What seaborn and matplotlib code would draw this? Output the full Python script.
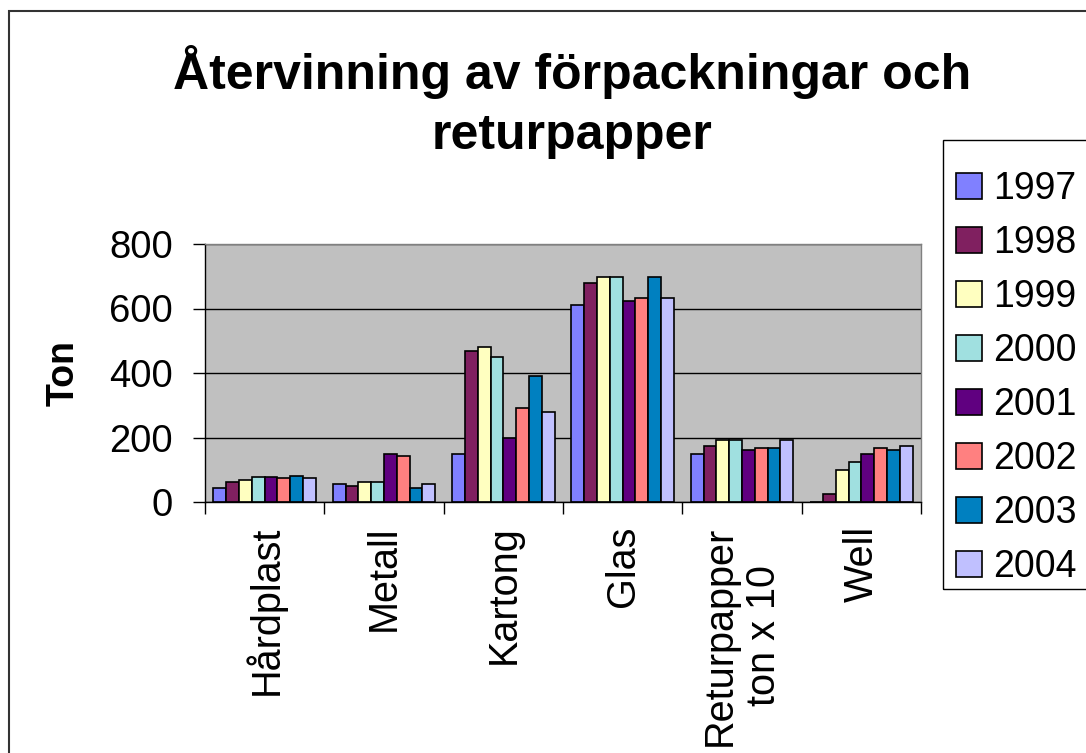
import matplotlib
matplotlib.use("Agg")
import matplotlib.pyplot as plt
import seaborn as sns
import pandas as pd
import numpy as np
from matplotlib.patches import Rectangle, Patch
from matplotlib.ticker import FixedLocator

categories = ["Hårdplast", "Metall", "Kartong", "Glas", "Returpapper\nton x 10", "Well"]
years = ["1997", "1998", "1999", "2000", "2001", "2002", "2003", "2004"]

v1997 = [44, 55, 149, 610, 149, 0]
v1998 = [61, 49, 467, 680, 173, 24]
v1999 = [69, 61, 480, 697, 192, 100]
v2000 = [79, 61, 449, 697, 192, 123]
v2001 = [79, 149, 200, 623, 162, 149]
v2002 = [74, 142, 292, 634, 167, 167]
v2003 = [80, 44, 392, 697, 167, 161]
v2004 = [75, 55, 280, 634, 192, 173]

colors = ["#8080FF", "#802060", "#FFFFC0", "#A0E0E0", "#600080", "#FF8080", "#0080C0", "#C0C0FF"]

series = [v1997, v1998, v1999, v2000, v2001, v2002, v2003, v2004]
rows = []
for y, vals in zip(years, series):
    for c, v in zip(categories, vals):
        rows.append({"Kategori": c, "År": y, "Ton": v})
df = pd.DataFrame(rows)

sns.set_style("white")
plt.rcParams["font.family"] = ["Liberation Sans", "DejaVu Sans"]
plt.rcParams["text.color"] = "black"
plt.rcParams["axes.labelcolor"] = "black"
plt.rcParams["xtick.color"] = "black"
plt.rcParams["ytick.color"] = "black"

W, H = 1086, 753
fig = plt.figure(figsize=(W / 100, H / 100), dpi=100)
fig.patch.set_facecolor("white")

# outer chart border (extends beyond right/bottom edges)
fig.patches.append(Rectangle((9 / W, -0.5), 2.0, 0.5 + 1 - 11 / H, transform=fig.transFigure,
                             fill=False, edgecolor="#333333", linewidth=1.5, zorder=0))
# legend frame (extends beyond right edge)
fig.patches.append(Rectangle((943 / W, 1 - 589 / H), 1.0, (589 - 140) / H, transform=fig.transFigure,
                             fill=False, edgecolor="black", linewidth=1.0, zorder=1))

left, right, top, bottom = 205, 921, 244, 502
ax = fig.add_axes([left / W, 1 - bottom / H, (right - left) / W, (bottom - top) / H])

sns.barplot(data=df, x="Kategori", y="Ton", hue="År", order=categories, hue_order=years,
            palette=colors, width=0.86, edgecolor="black", linewidth=1.2, saturation=1,
            ax=ax, legend=False)

ax.set_facecolor("#C0C0C0")
ax.set_ylim(0, 800)
ax.set_xlim(-0.5, 5.5)
ax.set_yticks([0, 200, 400, 600, 800])
ax.yaxis.grid(True, color="black", linewidth=1.0)
ax.xaxis.grid(False)
ax.set_axisbelow(True)

for s in ["left", "bottom"]:
    ax.spines[s].set_color("black")
    ax.spines[s].set_linewidth(1.0)
for s in ["top", "right"]:
    ax.spines[s].set_color("#808080")
    ax.spines[s].set_linewidth(1.0)

ax.tick_params(axis="y", which="major", direction="out", length=8.6, width=1, color="black",
               labelsize=27.5, pad=14.5, left=True)
ax.set_xticks(range(len(categories)))
ax.set_xticklabels(categories, rotation=90, fontsize=28.5, va="top", ha="center",
                   multialignment="center")
ax.tick_params(axis="x", which="major", length=0, pad=17, bottom=True)
ax.xaxis.set_minor_locator(FixedLocator(np.arange(-0.5, 6.0, 1.0)))
ax.tick_params(axis="x", which="minor", direction="out", length=8.6, width=1, color="black",
               bottom=True)

ax.set_xlabel("")
ax.set_ylabel("Ton", fontsize=27, fontweight="bold", labelpad=20)

fig.text(572 / W, 1 - 45 / H, "Återvinning av förpackningar och\nreturpapper",
         ha="center", va="top", fontsize=36, fontweight="bold", linespacing=1.38)

handles = [Patch(facecolor=c, edgecolor="black", linewidth=1.2) for c in colors]
leg = ax.legend(handles, years, loc="upper left", bbox_to_anchor=(956 / W, 1 - 171 / H),
                bbox_transform=fig.transFigure, fontsize=27, frameon=False,
                borderpad=0, labelspacing=0.48, handlelength=0.7, handleheight=0.7,
                handletextpad=0.3, borderaxespad=0)

fig.savefig("out.png", dpi=100)
